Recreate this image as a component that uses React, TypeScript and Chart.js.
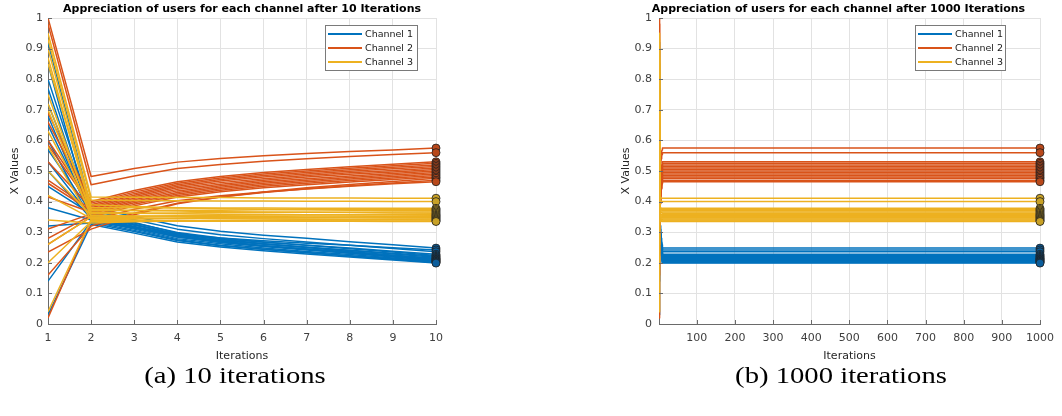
import React, { useEffect, useRef } from "react";
import { Chart, registerables } from "chart.js";

Chart.register(...registerables);

// ---------- data ----------
const ITERATIONS = [1, 2, 3, 4, 5, 6, 7, 8, 9, 10];
const LONG_RUN_LAST = 1000;
const LONG_RUN_TICKS = [100, 200, 300, 400, 500, 600, 700, 800, 900, 1000];
const CHANNEL_NAMES = ["Channel 1", "Channel 2", "Channel 3"];
const CHANNEL_COLORS = ["#0072BD", "#D95319", "#EDB120"];
const MARKER_COLORS = ["#0b5d9b", "#b8481a", "#c8a126"];
const TITLE_SHORT = "Appreciation of users for each channel after 10 Iterations";
const TITLE_LONG = "Appreciation of users for each channel after 1000 Iterations";
const X_LABEL = "Iterations";
const Y_LABEL = "X Values";
const CAPTION_A = "(a) 10 iterations";
const CAPTION_B = "(b) 1000 iterations";

// values of every user per iteration (1..10); last value = converged value
const channel1Users = [
  [0.92, 0.38, 0.351, 0.321, 0.303, 0.29, 0.28, 0.269, 0.259, 0.248],
  [0.85, 0.335, 0.315, 0.293, 0.281, 0.272, 0.264, 0.257, 0.249, 0.242],
  [0.8, 0.37, 0.341, 0.31, 0.292, 0.279, 0.268, 0.257, 0.247, 0.236],
  [0.77, 0.35, 0.323, 0.295, 0.279, 0.267, 0.257, 0.248, 0.238, 0.228],
  [0.72, 0.36, 0.33, 0.299, 0.281, 0.268, 0.257, 0.246, 0.235, 0.224],
  [0.68, 0.345, 0.318, 0.289, 0.273, 0.261, 0.251, 0.241, 0.231, 0.221],
  [0.65, 0.355, 0.325, 0.293, 0.276, 0.262, 0.251, 0.24, 0.229, 0.218],
  [0.6, 0.34, 0.313, 0.284, 0.268, 0.255, 0.245, 0.235, 0.225, 0.215],
  [0.57, 0.365, 0.332, 0.297, 0.277, 0.262, 0.25, 0.237, 0.225, 0.213],
  [0.53, 0.35, 0.319, 0.287, 0.269, 0.256, 0.244, 0.233, 0.222, 0.211],
  [0.5, 0.345, 0.315, 0.284, 0.266, 0.253, 0.242, 0.231, 0.22, 0.209],
  [0.45, 0.36, 0.326, 0.291, 0.271, 0.256, 0.244, 0.232, 0.219, 0.207],
  [0.38, 0.34, 0.31, 0.279, 0.262, 0.248, 0.237, 0.227, 0.216, 0.205],
  [0.32, 0.33, 0.302, 0.273, 0.256, 0.244, 0.234, 0.223, 0.213, 0.203],
  [0.14, 0.335, 0.306, 0.275, 0.257, 0.244, 0.233, 0.222, 0.212, 0.201],
  [0.03, 0.325, 0.297, 0.268, 0.252, 0.239, 0.229, 0.219, 0.209, 0.199],
];

const channel2Users = [
  [1.0, 0.482, 0.508, 0.529, 0.541, 0.55, 0.557, 0.564, 0.569, 0.575],
  [0.98, 0.455, 0.484, 0.508, 0.521, 0.532, 0.54, 0.547, 0.554, 0.56],
  [0.69, 0.4, 0.436, 0.465, 0.482, 0.495, 0.505, 0.514, 0.522, 0.53],
  [0.66, 0.395, 0.431, 0.46, 0.477, 0.49, 0.5, 0.509, 0.517, 0.525],
  [0.6, 0.39, 0.426, 0.455, 0.472, 0.485, 0.495, 0.504, 0.512, 0.52],
  [0.585, 0.385, 0.421, 0.45, 0.467, 0.48, 0.49, 0.499, 0.507, 0.515],
  [0.53, 0.38, 0.416, 0.445, 0.462, 0.475, 0.485, 0.494, 0.502, 0.51],
  [0.47, 0.375, 0.411, 0.44, 0.457, 0.47, 0.48, 0.489, 0.497, 0.505],
  [0.46, 0.37, 0.406, 0.435, 0.452, 0.465, 0.475, 0.484, 0.492, 0.5],
  [0.415, 0.365, 0.401, 0.43, 0.447, 0.46, 0.47, 0.479, 0.487, 0.495],
  [0.31, 0.36, 0.396, 0.425, 0.442, 0.455, 0.465, 0.474, 0.482, 0.49],
  [0.28, 0.355, 0.391, 0.42, 0.437, 0.45, 0.46, 0.469, 0.477, 0.485],
  [0.26, 0.35, 0.386, 0.415, 0.432, 0.445, 0.455, 0.464, 0.472, 0.48],
  [0.235, 0.31, 0.357, 0.393, 0.415, 0.431, 0.445, 0.456, 0.466, 0.476],
  [0.16, 0.32, 0.362, 0.395, 0.415, 0.43, 0.442, 0.452, 0.461, 0.47],
  [0.02, 0.34, 0.375, 0.403, 0.419, 0.431, 0.441, 0.45, 0.458, 0.465],
];

const channel3Users = [
  [0.95, 0.415, 0.414, 0.413, 0.413, 0.412, 0.412, 0.412, 0.411, 0.411],
  [0.93, 0.405, 0.404, 0.403, 0.402, 0.402, 0.401, 0.401, 0.4, 0.4],
  [0.9, 0.38, 0.38, 0.379, 0.379, 0.379, 0.378, 0.378, 0.378, 0.378],
  [0.87, 0.37, 0.371, 0.372, 0.372, 0.373, 0.373, 0.373, 0.374, 0.374],
  [0.85, 0.39, 0.384, 0.38, 0.377, 0.375, 0.374, 0.372, 0.371, 0.37],
  [0.75, 0.36, 0.362, 0.363, 0.364, 0.364, 0.365, 0.365, 0.366, 0.366],
  [0.72, 0.375, 0.371, 0.369, 0.367, 0.366, 0.365, 0.364, 0.363, 0.362],
  [0.7, 0.35, 0.352, 0.354, 0.355, 0.356, 0.356, 0.357, 0.358, 0.358],
  [0.63, 0.365, 0.362, 0.36, 0.359, 0.358, 0.357, 0.356, 0.356, 0.355],
  [0.58, 0.34, 0.343, 0.346, 0.348, 0.348, 0.349, 0.35, 0.351, 0.352],
  [0.5, 0.355, 0.353, 0.352, 0.351, 0.351, 0.35, 0.35, 0.349, 0.349],
  [0.42, 0.345, 0.345, 0.345, 0.346, 0.346, 0.346, 0.346, 0.346, 0.346],
  [0.34, 0.33, 0.334, 0.337, 0.338, 0.339, 0.34, 0.341, 0.342, 0.343],
  [0.26, 0.35, 0.347, 0.345, 0.344, 0.343, 0.342, 0.341, 0.341, 0.34],
  [0.2, 0.335, 0.336, 0.336, 0.336, 0.337, 0.337, 0.337, 0.337, 0.337],
  [0.04, 0.34, 0.339, 0.338, 0.337, 0.337, 0.336, 0.336, 0.335, 0.335],
];

const CHANNELS = [channel1Users, channel2Users, channel3Users];

// ---------- helpers ----------
const FONT = '"DejaVu Sans", "Liberation Sans", sans-serif';
const TICK_COLOR = "#404040";
const AXIS_COLOR = "#6a6a6a";
const GRID_COLOR = "#e2e2e2";
// drawing weight: yellow lines on top of orange on top of blue
const LINE_ORDER = [3, 2, 1];

function buildDatasets(longRun: boolean) {
  const sets: any[] = [];
  CHANNELS.forEach((users, c) => {
    users.forEach((vals) => {
      const pts = vals.map((v, i) => ({ x: ITERATIONS[i], y: v }));
      if (longRun) pts.push({ x: LONG_RUN_LAST, y: vals[vals.length - 1] });
      sets.push({
        type: "line",
        data: pts,
        borderColor: CHANNEL_COLORS[c],
        borderWidth: 1.5,
        pointRadius: 0,
        fill: false,
        tension: 0,
        borderJoinStyle: "round",
        order: LINE_ORDER[c],
      });
    });
  });
  const endX = longRun ? LONG_RUN_LAST : ITERATIONS[ITERATIONS.length - 1];
  CHANNELS.forEach((users, c) => {
    sets.push({
      type: "scatter",
      data: users.map((vals) => ({ x: endX, y: vals[vals.length - 1] })),
      pointRadius: 4,
      pointBackgroundColor: MARKER_COLORS[c],
      pointBorderColor: "#1e1e1e",
      pointBorderWidth: 0.8,
      showLine: false,
      clip: false,
      order: 0,
    });
  });
  return sets;
}

const decorPlugin = {
  id: "decor",
  afterDraw(chart: any, _args: any, opts: any) {
    const { ctx, chartArea } = chart;
    const xs = chart.scales.x;
    const ys = chart.scales.y;
    ctx.save();
    // inward tick marks
    ctx.strokeStyle = AXIS_COLOR;
    ctx.lineWidth = 1;
    ctx.beginPath();
    xs.ticks.forEach((t: any) => {
      const px = Math.round(xs.getPixelForValue(t.value)) + 0.5;
      ctx.moveTo(px, chartArea.bottom);
      ctx.lineTo(px, chartArea.bottom - 4);
    });
    ys.ticks.forEach((t: any) => {
      const py = Math.round(ys.getPixelForValue(t.value)) + 0.5;
      ctx.moveTo(chartArea.left, py);
      ctx.lineTo(chartArea.left + 4, py);
    });
    ctx.stroke();
    // title
    ctx.fillStyle = "#000";
    ctx.font = `bold 11px ${FONT}`;
    ctx.textAlign = "center";
    ctx.textBaseline = "middle";
    ctx.fillText(opts.text, (chartArea.left + chartArea.right) / 2 + opts.titleShift, 9.5);
    // legend
    const bw = opts.legendWidth;
    const bh = 45;
    const bx = Math.round(chartArea.right - opts.legendRight - bw);
    const by = Math.round(chartArea.top + 7);
    ctx.fillStyle = "#fff";
    ctx.fillRect(bx, by, bw, bh);
    ctx.strokeStyle = "#7a7a7a";
    ctx.lineWidth = 1;
    ctx.strokeRect(bx + 0.5, by + 0.5, bw, bh);
    CHANNEL_NAMES.forEach((name, i) => {
      const y = by + 9 + i * 14;
      ctx.strokeStyle = CHANNEL_COLORS[i];
      ctx.lineWidth = 2;
      ctx.beginPath();
      ctx.moveTo(bx + 3, y);
      ctx.lineTo(bx + 37, y);
      ctx.stroke();
      ctx.fillStyle = "#1a1a1a";
      ctx.font = `9.5px ${FONT}`;
      ctx.textAlign = "left";
      ctx.textBaseline = "middle";
      ctx.fillText(name, bx + 40, y + 0.5);
    });
    ctx.restore();
  },
};

const plainNumber = (v: any) => String(Math.round(Number(v) * 10) / 10);

function makeConfig(longRun: boolean): any {
  const tickFont = { family: FONT, size: 11 };
  const yWidth = longRun ? 139 : 48;
  return {
    type: "line",
    data: { datasets: buildDatasets(longRun) },
    plugins: [decorPlugin],
    options: {
      animation: false,
      responsive: false,
      devicePixelRatio: 1,
      events: [],
      layout: { padding: { top: 18, left: 0, right: longRun ? 14 : 84, bottom: 0 } },
      plugins: {
        legend: { display: false },
        tooltip: { enabled: false },
        title: { display: false },
        decor: {
          text: longRun ? TITLE_LONG : TITLE_SHORT,
          titleShift: longRun ? -11 : 0,
          legendWidth: longRun ? 90 : 92,
          legendRight: longRun ? 35 : 19,
        },
      },
      scales: {
        x: {
          type: "linear",
          min: 1,
          max: longRun ? LONG_RUN_LAST : ITERATIONS[ITERATIONS.length - 1],
          ticks: {
            stepSize: 1,
            autoSkip: false,
            maxRotation: 0,
            font: tickFont,
            color: TICK_COLOR,
            padding: 8,
            callback: plainNumber,
          },
          afterBuildTicks: longRun
            ? (s: any) => {
                s.ticks = LONG_RUN_TICKS.map((v) => ({ value: v }));
              }
            : undefined,
          grid: { color: GRID_COLOR, drawTicks: false },
          border: { color: AXIS_COLOR, width: 1 },
          title: {
            display: true,
            text: X_LABEL,
            font: tickFont,
            color: "#262626",
            padding: { top: 0, bottom: 9 },
          },
          afterFit: (s: any) => {
            s.height = 48;
          },
        },
        y: {
          type: "linear",
          min: 0,
          max: 1,
          ticks: {
            stepSize: 0.1,
            font: tickFont,
            color: TICK_COLOR,
            padding: longRun ? 7 : 5,
            callback: plainNumber,
          },
          grid: { color: GRID_COLOR, drawTicks: false },
          border: { color: AXIS_COLOR, width: 1 },
          title: {
            display: true,
            text: Y_LABEL,
            font: tickFont,
            color: "#262626",
            padding: { top: longRun ? 100 : 9, bottom: 0 },
          },
          afterFit: (s: any) => {
            s.width = yWidth;
          },
        },
      },
    },
  };
}

function PlotCanvas({ longRun, width, height, left }: any) {
  const ref = useRef<HTMLCanvasElement | null>(null);
  useEffect(() => {
    if (!ref.current) return;
    const chart = new Chart(ref.current, makeConfig(longRun));
    return () => chart.destroy();
  }, [longRun]);
  return (
    <canvas
      ref={ref}
      width={width}
      height={height}
      style={{ position: "absolute", left, top: 0, width, height }}
    />
  );
}

const captionStyle: React.CSSProperties = {
  position: "absolute",
  top: 363,
  width: 240,
  textAlign: "center",
  fontFamily: '"Liberation Serif", "DejaVu Serif", serif',
  fontSize: 23.5,
  lineHeight: "24px",
  color: "#000",
  transform: "scaleX(1.22)",
  transformOrigin: "center",
  whiteSpace: "nowrap",
};

export default function App() {
  return (
    <div
      style={{
        position: "fixed",
        left: 0,
        top: 0,
        width: 1062,
        height: 416,
        background: "#fff",
        overflow: "hidden",
      }}
    >
      <PlotCanvas longRun={false} width={520} height={372} left={0} />
      <PlotCanvas longRun={true} width={542} height={372} left={520} />
      <div style={{ ...captionStyle, left: 235 - 120 }}>{CAPTION_A}</div>
      <div style={{ ...captionStyle, left: 841 - 120 }}>{CAPTION_B}</div>
    </div>
  );
}
